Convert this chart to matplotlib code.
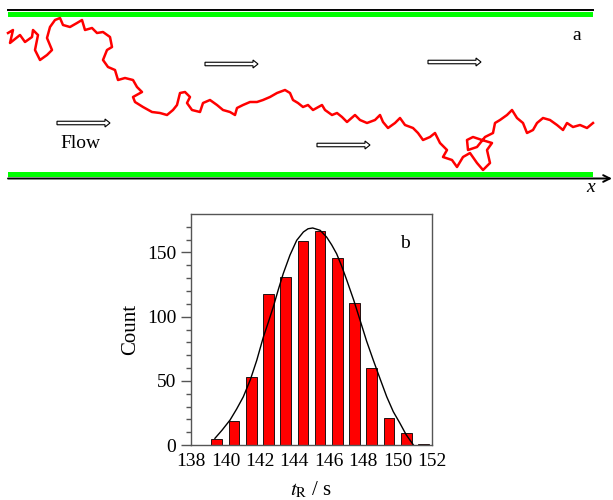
"""
Two-panel figure:
  a : trajectory of a particle drifting in a channel with flow
  b : histogram of retention times t_R with a fitted curve
"""

import matplotlib
matplotlib.use("Agg")
import matplotlib.pyplot as plt
import matplotlib.patches as mpatches
import numpy as np

plt.rcParams["font.family"] = ["Liberation Serif", "DejaVu Serif"]
plt.rcParams["mathtext.fontset"] = "stix"

# ── data: panel a (trajectory traced in picture pixels) ──────────────────────

path_x = [8, 13, 10, 20, 25, 32, 33, 38, 35, 40, 47, 52, 47, 50, 55, 60, 63,
          70, 77, 82, 85, 92, 97, 103, 110, 112, 107, 103, 108, 115, 118, 125,
          133, 137, 142, 133, 135, 143, 152, 160, 167, 173, 177, 180, 185, 190,
          187, 192, 200, 203, 210, 217, 223, 230, 235, 237, 243, 250, 257, 263,
          270, 277, 285, 290, 293, 298, 303, 308, 313, 322, 325, 332, 337, 342,
          347, 355, 360, 367, 375, 380, 383, 388, 395, 400, 405, 413, 418, 423,
          430, 435, 440, 447, 443, 452, 457, 463, 470, 477, 483, 490, 487, 492,
          482, 473, 467, 468, 477, 485, 493, 495, 500, 507, 512, 517, 523, 527,
          533, 537, 543, 550, 557, 563, 567, 573, 580, 587, 593]
path_y = [33, 30, 43, 35, 42, 37, 30, 35, 50, 60, 55, 50, 38, 27, 20, 18, 25,
          27, 23, 20, 30, 28, 33, 32, 37, 47, 50, 60, 67, 70, 80, 78,
          80, 87, 92, 97, 102, 107, 112, 113, 115, 110, 105, 93, 92, 97,
          103, 110, 112, 103, 100, 105, 110, 112, 115, 108, 105, 102, 102, 100,
          97, 93, 90, 93, 100, 103, 107, 105, 110, 105, 110, 115, 113, 117,
          122, 115, 120, 123, 120, 115, 122, 128, 123, 118, 125, 128, 133, 140,
          137, 133, 143, 150, 157, 160, 167, 157, 153, 163, 170, 163, 150, 143,
          140, 137, 140, 150, 147, 137, 133, 123, 120, 115, 110, 118, 123, 133,
          130, 123, 118, 120, 125, 130, 123, 127, 125, 128, 123]

# ── data: panel b ────────────────────────────────────────────────────────────

bin_centers = [139.5, 140.5, 141.5, 142.5, 143.5, 144.5, 145.5,
               146.5, 147.5, 148.5, 149.5, 150.5, 151.5]
counts = [5, 19, 53, 118, 131, 159, 167, 146, 111, 60, 21, 9, 1]

fit_t = [139.39, 139.8, 140.27, 140.65, 141.04, 141.45, 141.82, 142.2, 142.5,
         142.78, 143.07, 143.36, 143.75, 144.14, 144.53, 144.8, 145.07, 145.5,
         145.88, 146.17, 146.46, 146.75, 147.05, 147.45, 147.82, 148.2, 148.59,
         149.0, 149.37, 149.75, 150.14, 150.5, 150.92]
fit_n = [5.2, 11.5, 19.5, 28, 37.6, 51, 66, 84, 96,
         107.6, 121, 133.6, 148, 159.5, 166, 168.5, 169.1, 167.3,
         162, 156, 149, 139.5, 128.4, 113, 97.3, 81, 66.1,
         51, 37.6, 26, 16.9, 8, 0]

# ── colours ──────────────────────────────────────────────────────────────────

RED = "#ff0000"
GREEN = "#00ff00"
SPINE = "#555555"

fig = plt.figure(figsize=(6.13, 5.0), dpi=100)

# ── panel a: drawn in pixel coordinates over the whole figure ────────────────

ax_a = fig.add_axes([0, 0, 1, 1])
ax_a.set_xlim(0, 613)
ax_a.set_ylim(500, 0)
ax_a.axis("off")

# channel walls
ax_a.fill_between([8, 593], 11.5, 16.8, color=GREEN, lw=0)
ax_a.plot([8, 593], [10.3, 10.3], color="black", lw=1.4)
ax_a.fill_between([8, 593], 171.7, 177.3, color=GREEN, lw=0)
ax_a.annotate("", xy=(612, 178.5), xytext=(8, 178.5),
              arrowprops=dict(arrowstyle="->", lw=1.4, color="black",
                              mutation_scale=12, shrinkA=0, shrinkB=0))
ax_a.text(591, 188, "x", fontsize=14, style="italic", ha="center", va="center")

# trajectory
ax_a.plot(path_x, path_y, color=RED, lw=1.8)

# flow arrows
for (x0, y0) in [(57, 123), (205, 64), (428, 62), (317, 145)]:
    ax_a.add_patch(mpatches.FancyArrow(
        x0, y0, 53, 0, width=3.5, head_width=8, head_length=5,
        length_includes_head=True, fc="white", ec="black", lw=0.8))

ax_a.text(80, 143, "Flow", fontsize=14, ha="center", va="center")
ax_a.text(577, 36, "a", fontsize=14, ha="center", va="center")

# ── panel b: histogram ───────────────────────────────────────────────────────

ax_b = fig.add_axes([191 / 613, 55 / 500, 241 / 613, 231 / 500])
ax_b.bar(bin_centers, counts, width=0.62, color=RED, edgecolor="black", lw=0.6)
ax_b.plot(fit_t, fit_n, color="black", lw=1.0)

ax_b.set_xlim(138, 152)
ax_b.set_ylim(0, 180)
ax_b.set_xticks(np.arange(138, 153, 2))
ax_b.set_yticks([0, 50, 100, 150])
ax_b.set_yticks(np.arange(0, 180, 10), minor=True)
ax_b.tick_params(axis="x", length=0, pad=6, labelsize=14)
ax_b.tick_params(axis="y", which="major", length=7, width=1, direction="out",
                 labelsize=14, color=SPINE)
ax_b.tick_params(axis="y", which="minor", length=3.5, width=1,
                 direction="out", color=SPINE)
for spine in ax_b.spines.values():
    spine.set_edgecolor(SPINE)
    spine.set_linewidth(1.0)

ax_b.set_ylabel("Count", fontsize=15, labelpad=5)
ax_b.set_xlabel(r"$t_\mathrm{R}$ / s", fontsize=15, labelpad=7)
ax_b.text(150.45, 157, "b", fontsize=14, ha="center", va="center")

fig.savefig("out.png", dpi=100)
